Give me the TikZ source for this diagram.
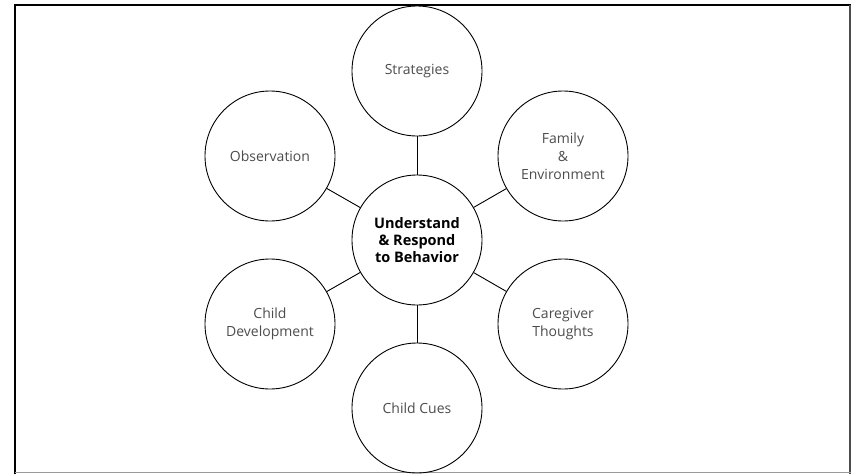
\documentclass[tikz,border=0pt]{standalone}
\usepackage{fontspec}
\setmainfont{Open Sans}
\newfontfamily\hubfont{Open Sans}
\begin{document}
\begin{tikzpicture}[x=1pt,y=-1pt,
  topic/.style={circle,draw=black,line width=0.9pt,minimum size=130pt,inner sep=0pt,
    align=center,text=black!70,font=\fontsize{14}{18}\selectfont},
  hub/.style={topic,text=black,font=\hubfont\bfseries\fontsize{14.5}{17}\selectfont},
  link/.style={draw=black,line width=0.9pt}]
  \useasboundingbox (0,0) rectangle (851,474);
  % frame
  \draw[line width=2pt,black] (15,474) -- (15,5) -- (851,5);
  \draw[line width=1.6pt,black!70] (850,5) -- (850,474);
  \draw[line width=1pt,black!40] (15,472.5) -- (851,472.5);
  % hub and surrounding topics
  \node[hub] (c) at (417,240) {Understand\\\& Respond\\to Behavior};
  \node[topic] (s) at (417,71) {Strategies};
  \node[topic] (f) at (563,156) {Family\\\&\\Environment};
  \node[topic] (g) at (563,324) {Caregiver\\Thoughts};
  \node[topic] (q) at (417,408) {Child Cues};
  \node[topic] (d) at (270,324) {Child\\Development};
  \node[topic] (o) at (270,156) {Observation};
  % spokes
  \foreach \n in {s,f,g,q,d,o}
    \draw[link] (c) -- (\n);
\end{tikzpicture}
\end{document}
